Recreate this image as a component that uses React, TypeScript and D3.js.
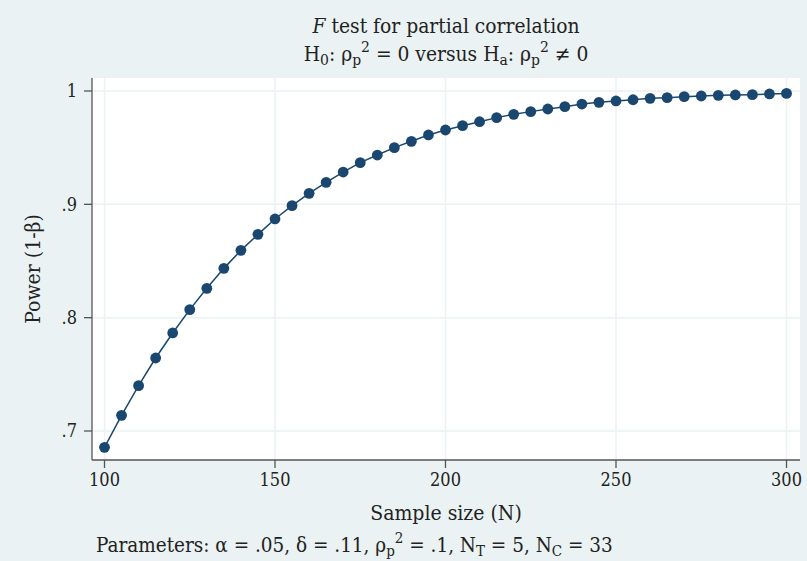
import React from "react";
import * as d3 from "d3";

const sampleSizes = [100,105,110,115,120,125,130,135,140,145,150,155,160,165,170,175,180,185,190,195,200,205,210,215,220,225,230,235,240,245,250,255,260,265,270,275,280,285,290,295,300];
const power = [0.6856,0.7138,0.7400,0.7644,0.7865,0.8071,0.8259,0.8435,0.8594,0.8735,0.8871,0.8988,0.9097,0.9194,0.9285,0.9368,0.9435,0.9500,0.9556,0.9612,0.9656,0.9694,0.9729,0.9765,0.9794,0.9818,0.9841,0.9862,0.9885,0.9900,0.9912,0.9923,0.9935,0.9941,0.9950,0.9956,0.9962,0.9965,0.9968,0.9974,0.9979];
const xTicks = [100,150,200,250,300];
const yTicks = [0.7,0.8,0.9,1];
const yTickLabels = [".7",".8",".9","1"];

const W = 807, H = 561;
const FONT = "'DejaVu Serif Condensed', 'DejaVu Serif', serif";
const BG = "#eaf2f3";
const NAVY = "#1a476f";
const TXT = "#222";

export default function App() {
  const plot = { left: 92, right: 800, top: 78, bottom: 460 };
  const x = d3.scaleLinear().domain([100, 300]).range([104.5, 786.5]);
  const y = d3.scaleLinear().domain([0.7, 1]).range([431, 91]);
  const data = sampleSizes.map((n, i) => ({ n, p: power[i] }));
  const line = d3.line<{ n: number; p: number }>().x(d => x(d.n)).y(d => y(d.p));

  return (
    <svg width={W} height={H} style={{ position: "absolute", left: 0, top: 0 }} fontFamily={FONT}>
      <rect x={0} y={0} width={W} height={H} fill={BG} />
      <rect x={plot.left} y={plot.top} width={plot.right - plot.left} height={plot.bottom - plot.top} fill="#fff" />
      {xTicks.map(t => (
        <line key={"gx" + t} x1={x(t)} x2={x(t)} y1={plot.top} y2={plot.bottom} stroke={BG} strokeWidth={1.5} />
      ))}
      {yTicks.map(t => (
        <line key={"gy" + t} x1={plot.left} x2={plot.right} y1={y(t)} y2={y(t)} stroke={BG} strokeWidth={1.5} />
      ))}
      {/* axes */}
      <line x1={plot.left} x2={plot.left} y1={plot.top} y2={plot.bottom} stroke="#555" strokeWidth={1.3} />
      <line x1={plot.left} x2={plot.right} y1={plot.bottom} y2={plot.bottom} stroke="#555" strokeWidth={1.3} />
      {yTicks.map((t, i) => (
        <g key={"yt" + t}>
          <line x1={plot.left - 8} x2={plot.left} y1={y(t)} y2={y(t)} stroke="#555" strokeWidth={1.3} />
          <text x={plot.left - 15} y={y(t)} dy="0.35em" textAnchor="end" fontSize={18} fill={TXT}>{yTickLabels[i]}</text>
        </g>
      ))}
      {xTicks.map(t => (
        <g key={"xt" + t}>
          <line x1={x(t)} x2={x(t)} y1={plot.bottom} y2={plot.bottom + 8} stroke="#555" strokeWidth={1.3} />
          <text x={x(t)} y={plot.bottom + 26} textAnchor="middle" fontSize={18} fill={TXT}>{t}</text>
        </g>
      ))}
      {/* data */}
      <path d={line(data) || ""} fill="none" stroke={NAVY} strokeWidth={1.5} />
      {data.map(d => (
        <circle key={d.n} cx={x(d.n)} cy={y(d.p)} r={5.4} fill={NAVY} />
      ))}
      {/* titles */}
      <text x={446} y={33} textAnchor="middle" fontSize={20.8} fill={TXT}>
        <tspan fontStyle="italic">F</tspan> test for partial correlation
      </text>
      <text x={446} y={61} textAnchor="middle" fontSize={20.8} fill={TXT}>
        H<tspan fontSize={15.5} dy={4}>0</tspan><tspan dy={-4}>: ρ</tspan><tspan fontSize={15.5} dy={4}>p</tspan><tspan fontSize={15.5} dy={-13}>2</tspan><tspan dy={9}> = 0 versus H</tspan><tspan fontSize={15.5} dy={4}>a</tspan><tspan dy={-4}>: ρ</tspan><tspan fontSize={15.5} dy={4}>p</tspan><tspan fontSize={15.5} dy={-13}>2</tspan><tspan dy={9}> ≠ 0</tspan>
      </text>
      <text x={446} y={520} textAnchor="middle" fontSize={21} fill={TXT}>Sample size (N)</text>
      <text transform={`translate(39.5,${(plot.top + plot.bottom) / 2}) rotate(-90)`} textAnchor="middle" fontSize={21} fill={TXT}>Power (1-β)</text>
      <text x={96} y={552} fontSize={20.5} fill={TXT}>
        Parameters: α = .05, δ = .11, ρ<tspan fontSize={15} dy={4}>p</tspan><tspan fontSize={15} dy={-13}>2</tspan><tspan dy={9}> = .1, N</tspan><tspan fontSize={15} dy={4}>T</tspan><tspan dy={-4}> = 5, N</tspan><tspan fontSize={15} dy={4}>C</tspan><tspan dy={-4}> = 33</tspan>
      </text>
    </svg>
  );
}
